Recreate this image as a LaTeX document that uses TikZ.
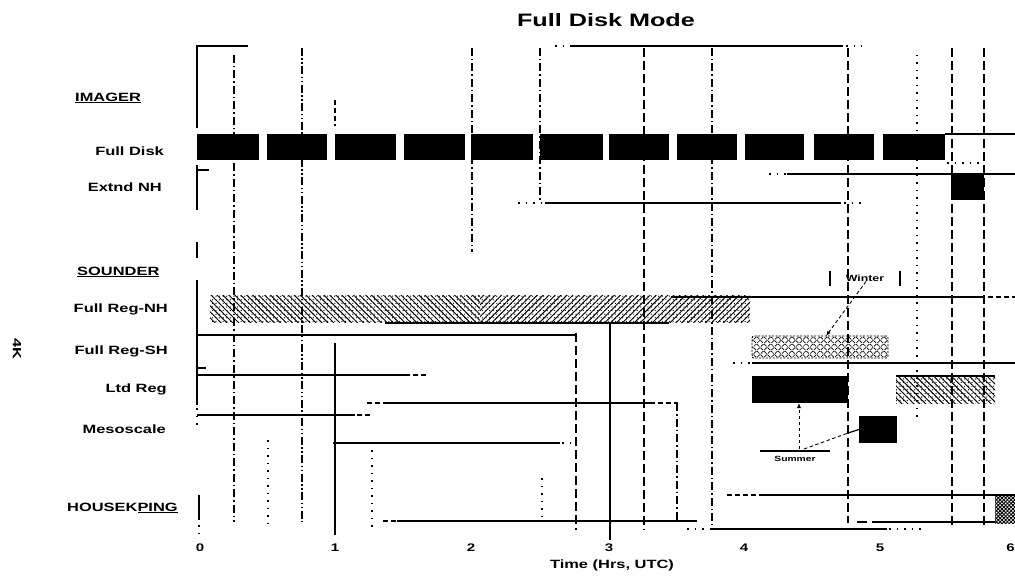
\documentclass[tikz,border=0pt]{standalone}
\usepackage{fontspec}
\setmainfont{Liberation Sans}
\newfontfamily\labfont[FakeStretch=1.37]{Liberation Sans}
\newfontfamily\ttlfont[FakeStretch=1.4]{Liberation Sans}
\usetikzlibrary{patterns,patterns.meta,arrows.meta}
\begin{document}
\begin{tikzpicture}[x=1pt,y=-1pt,
  lab/.style={font=\labfont\bfseries\fontsize{12}{14}\selectfont, inner sep=0pt},
  small/.style={font=\labfont\bfseries\fontsize{9}{10}\selectfont, inner sep=0pt},
  tiny/.style={font=\labfont\bfseries\fontsize{7.5}{8}\selectfont, inner sep=0pt},
  blackbar/.style={fill=black, draw=none, inner sep=0pt, outer sep=0pt, anchor=north west},
  hatchbar/.style={draw=none, inner sep=0pt, outer sep=0pt, anchor=north west},
  pdots/.style={pattern={Dots[distance=3.6pt, radius=0.65pt]}},
  pnw/.style={pattern={Lines[angle=-45, distance=4.2pt, line width=0.95pt]}},
  pne/.style={pattern={Lines[angle=45, distance=4.2pt, line width=0.95pt]}},
  gl/.style={line width=1.2pt},
  dsh/.style={line width=1.2pt, dash pattern=on 9pt off 4pt},
  ddot/.style={line width=1.1pt, dash pattern=on 8pt off 3pt on 1.5pt off 3pt},
  dddot/.style={line width=1.1pt, dash pattern=on 8pt off 2.5pt on 1.5pt off 2.5pt on 1.5pt off 2.5pt},
  dotl/.style={line width=1.2pt, dash pattern=on 1.5pt off 6pt},
  sdash/.style={line width=1.2pt, dash pattern=on 5pt off 3pt},
  conn/.style={line width=0.9pt, dash pattern=on 3.5pt off 2.5pt},
  tip/.style={-{Latex[length=5pt,width=4pt]}}
]
\useasboundingbox (0,0) rectangle (1015,577);

% ---------- vertical grid lines ----------
\draw[gl] (197,45) -- (197,128);
\draw[gl] (197,165) -- (197,210);
\draw[gl] (197,242) -- (197,258);
\draw[gl] (197,280) -- (197,405);
\draw[dotl] (197,408) -- (197,425);
\draw[gl] (199,495) -- (199,520);
\draw[dotl] (199,525) -- (199,537);
\draw[gl] (197,170) -- (209,170);
\draw[gl] (197,368) -- (206,368);
\draw[ddot] (234,55) -- (234,522);
\draw[dddot] (302,48) -- (302,522);
\draw[sdash] (335,100) -- (335,126);
\draw[gl] (335,343) -- (335,535);
\draw[ddot] (472,48) -- (472,252);
\draw[ddot] (540,48) -- (540,200);
\draw[dotl] (268,440) -- (268,530);
\draw[dotl] (372,450) -- (372,530);
\draw[dotl] (542,478) -- (542,522);
\draw[dsh] (576,333) -- (576,530);
\draw[gl] (610,323) -- (610,540);
\draw[dsh] (644,48) -- (644,530);
\draw[ddot] (677,403) -- (677,520);
\draw[ddot] (712,48) -- (712,525);
\draw[dsh] (848,48) -- (848,523);
\draw[dotl] (917,55) -- (917,420);
\draw[dsh] (952,48) -- (952,528);
\draw[dsh] (984,48) -- (984,528);

% ---------- horizontal lines ----------
\draw[gl] (197,46) -- (248,46);
\draw[dotl] (555,46) -- (572,46);
\draw[gl] (572,46) -- (843,46);
\draw[dotl] (846,46) -- (862,46);
\draw[gl] (945,134) -- (1015,134);
\draw[dotl] (947,163) -- (982,163);
\draw[dotl] (769,174) -- (787,174);
\draw[gl] (787,174) -- (1015,174);
\draw[dotl] (518,203) -- (545,203);
\draw[gl] (545,203) -- (841,203);
\draw[dotl] (844,203) -- (864,203);
\draw[gl] (671,297) -- (985,297);
\draw[sdash] (988,297) -- (1015,297);
\draw[gl] (385,323) -- (669,323);
\draw[gl] (197,335) -- (576,335);
\draw[dotl] (733,363) -- (752,363);
\draw[gl] (752,363) -- (1015,363);
\draw[gl] (197,375) -- (410,375);
\draw[sdash] (413,375) -- (426,375);
\draw[sdash] (367,403) -- (383,403);
\draw[gl] (383,403) -- (650,403);
\draw[sdash] (650,403) -- (678,403);
\draw[gl] (197,415) -- (355,415);
\draw[sdash] (357,415) -- (373,415);
\draw[gl] (333,443) -- (560,443);
\draw[dotl] (562,443) -- (574,443);
\draw[sdash] (727,495) -- (760,495);
\draw[gl] (760,495) -- (1015,495);
\draw[sdash] (383,521) -- (397,521);
\draw[gl] (397,521) -- (697,521);
\draw[gl] (857,522) -- (867,522);
\draw[gl] (872,522) -- (995,522);
\draw[dotl] (687,529) -- (710,529);
\draw[gl] (710,529) -- (887,529);
\draw[dotl] (889,529) -- (922,529);

% ---------- Full Disk bars ----------
\foreach \a/\b [count=\i] in {197/259,267/327,335/396,404/465,471/533,540/603,609/669,677/737,745/804,814/874,883/945}
  \node[blackbar, minimum width={\b-\a}, minimum height=26] (fd\i) at (\a,134) {};

% ---------- other boxes ----------
\node[blackbar, minimum width=33, minimum height=26] (xnh) at (951,174) {};
\node[hatchbar, minimum width=540, minimum height=27, pdots] (frnh) at (210,296) {};
\path[pnw] (frnh.north west) rectangle ([xshift=-270]frnh.south east);
\path[pne] ([xshift=-270]frnh.north east) rectangle (frnh.south east);
\node[draw, line width=0.9pt, dash pattern=on 2pt off 1.5pt, rounded corners=2pt, inner sep=0pt, outer sep=0pt,
      anchor=north west, minimum width=136, minimum height=22,
      pattern={Hatch[angle=45, distance=5pt, line width=0.7pt]}] (wbox) at (752,336) {};
\node[blackbar, minimum width=96, minimum height=27] (ltdA) at (752,376) {};
\node[hatchbar, minimum width=99, minimum height=27, pdots, postaction={pnw}] (ltdB) at (896,376) {};
\draw[gl] (ltdB.north west) -- (ltdB.north east);
\node[blackbar, minimum width=38, minimum height=27] (meso) at (859,416) {};
\node[hatchbar, minimum width=20, minimum height=29,
      pattern={Hatch[angle=45, distance=2.6pt, line width=0.9pt]}] (hk) at (995,494) {};

% ---------- Winter / Summer annotations ----------
\node[small] (winter) at (865,278) {Winter};
\draw[gl] (830,271) -- (830,286);
\draw[gl] (900,271) -- (900,286);
\draw[conn, tip] ([xshift=1]winter.south) -- ([xshift=6]wbox.north);

\node[tiny] (summer) at (795,459) {Summer};
\draw[gl] (760,451) -- (830,451);
\coordinate (s1) at (799,449);
\coordinate (s2) at (804,449);
\coordinate (m1) at (848,433);
\draw[conn, tip] (s1) -- (s1 |- ltdA.south);
\draw[conn] (s2) -- (m1);
\draw[gl] (m1) -- (meso.west);

% ---------- labels ----------
\node[font=\ttlfont\bfseries\fontsize{18}{20}\selectfont, inner sep=0pt] (title) at (606,20) {Full Disk Mode};
\node[lab, anchor=west] (imager) at (75,98) {\underline{IMAGER}};
\node[lab, anchor=east] (lfd) at (164,151) {Full Disk};
\node[lab, anchor=east] (lxnh) at (162,187) {Extnd NH};
\node[lab, anchor=west] (sounder) at (77,272) {\underline{SOUNDER}};
\node[lab, anchor=east] (lfrnh) at (168,309) {Full Reg-NH};
\node[lab, anchor=east] (lfrsh) at (168,351) {Full Reg-SH};
\node[lab, anchor=east] (lltd) at (167,389) {Ltd Reg};
\node[lab, anchor=east] (lmeso) at (166,429) {Mesoscale};
\node[lab, anchor=west] (lhk) at (67,508) {HOUSEK\underline{PING}};
\node[lab, rotate=-90] (fourk) at (17,349) {4K};

% ---------- axis ----------
\foreach \t/\xx in {0/200,1/335,2/471,3/609,4/744,5/880}
  \node[lab, font=\labfont\bfseries\fontsize{11}{12}\selectfont] (tick\t) at (\xx,548) {\t};
\node[lab, font=\labfont\bfseries\fontsize{11}{12}\selectfont, anchor=east] (tick6) at (1015,548) {6};
\node[lab] (xlabel) at (612,565) {Time (Hrs, UTC)};
\end{tikzpicture}
\end{document}
